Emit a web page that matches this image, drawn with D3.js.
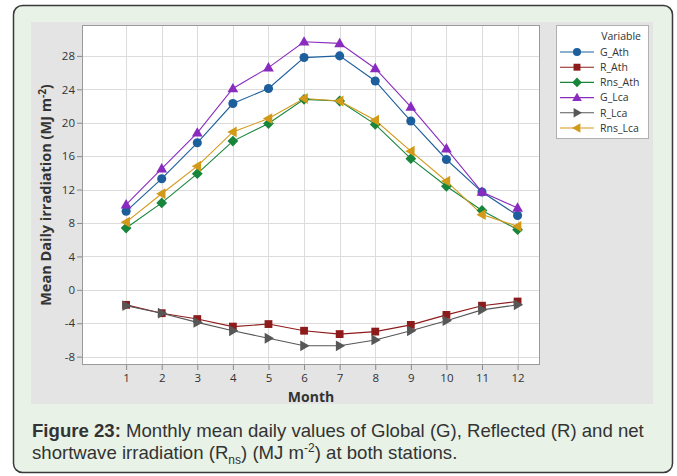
<!DOCTYPE html>
<html>
<head>
<meta charset="utf-8">
<script src="https://cdn.jsdelivr.net/npm/d3@7"></script>
<style>
  body { margin: 0; background: #fff; }
  svg { display: block; }
</style>
</head>
<body>
<svg id="chart" width="677" height="476"></svg>
<script>
const months = [1, 2, 3, 4, 5, 6, 7, 8, 9, 10, 11, 12];
const gAth = [9.4, 13.3, 17.6, 22.3, 24.1, 27.8, 28.0, 25.0, 20.2, 15.6, 11.7, 8.9];
const rAth = [-1.8, -2.8, -3.5, -4.4, -4.1, -4.9, -5.3, -5.0, -4.2, -3.0, -1.9, -1.4];
const rnsAth = [7.4, 10.4, 13.9, 17.8, 19.9, 22.8, 22.6, 19.8, 15.7, 12.4, 9.5, 7.2];
const gLca = [10.2, 14.5, 18.8, 24.1, 26.6, 29.7, 29.5, 26.5, 21.9, 16.9, 11.7, 9.8];
const rLca = [-1.9, -2.8, -3.9, -4.9, -5.8, -6.7, -6.7, -6.0, -4.9, -3.7, -2.4, -1.8];
const rnsLca = [8.1, 11.5, 14.8, 18.9, 20.5, 22.9, 22.6, 20.3, 16.6, 13.0, 9.0, 7.6];
const yTicks = [-8, -4, 0, 4, 8, 12, 16, 20, 24, 28];

const series = [
  {name: "G_Ath", values: gAth, color: "#1d5f9c", shape: "circle"},
  {name: "R_Ath", values: rAth, color: "#8e1b1b", shape: "square"},
  {name: "Rns_Ath", values: rnsAth, color: "#17853a", shape: "diamond"},
  {name: "G_Lca", values: gLca, color: "#8a2bbf", shape: "up"},
  {name: "R_Lca", values: rLca, color: "#575757", shape: "right"},
  {name: "Rns_Lca", values: rnsLca, color: "#d39a1a", shape: "left"}
];

const svg = d3.select("#chart");

// card
svg.append("rect")
  .attr("x", 13.5).attr("y", 5.5).attr("width", 659).attr("height", 467)
  .attr("rx", 9).attr("fill", "#e8f2e6").attr("stroke", "#3a3a3a").attr("stroke-width", 1.5);

// grey chart panel
svg.append("rect")
  .attr("x", 31).attr("y", 22).attr("width", 622).attr("height", 382)
  .attr("fill", "#e4e4e4");

const plot = {left: 82, top: 25, right: 540, bottom: 365};

const x = d3.scaleLinear().domain([-0.24, 12.63]).range([plot.left, plot.right]);
const y = d3.scaleLinear().domain([-9, 31.7]).range([plot.bottom, plot.top]);

svg.append("rect")
  .attr("x", plot.left).attr("y", plot.top)
  .attr("width", plot.right - plot.left).attr("height", plot.bottom - plot.top)
  .attr("fill", "#fff");

// grid
const grid = svg.append("g").attr("stroke", "#dcdcdc").attr("stroke-width", 1);
grid.selectAll(".gx").data(months).join("line")
  .attr("x1", d => Math.round(x(d)) + 0.5).attr("x2", d => Math.round(x(d)) + 0.5)
  .attr("y1", plot.top).attr("y2", plot.bottom);
grid.selectAll(".gy").data(yTicks).join("line")
  .attr("y1", d => Math.round(y(d)) + 0.5).attr("y2", d => Math.round(y(d)) + 0.5)
  .attr("x1", plot.left).attr("x2", plot.right);

svg.append("rect")
  .attr("x", plot.left + 0.5).attr("y", plot.top + 0.5)
  .attr("width", plot.right - plot.left - 1).attr("height", plot.bottom - plot.top - 1)
  .attr("fill", "none").attr("stroke", "#9a9a9a");

// axes
const xAxis = svg.append("g")
  .attr("transform", `translate(0,${plot.bottom})`)
  .call(d3.axisBottom(x).tickValues(months).tickSize(5).tickPadding(4));
const yAxis = svg.append("g")
  .attr("transform", `translate(${plot.left},0)`)
  .call(d3.axisLeft(y).tickValues(yTicks).tickSize(5).tickPadding(2).tickFormat(d => String(d)));
[xAxis, yAxis].forEach(a => {
  a.select(".domain").remove();
  a.selectAll(".tick line").attr("stroke", "#8a8a8a");
  a.selectAll("text").attr("fill", "#333").attr("font-family", "Open Sans, sans-serif").attr("font-size", 11.5);
});

svg.append("text")
  .attr("x", 311).attr("y", 402).attr("text-anchor", "middle")
  .attr("font-family", "Open Sans, sans-serif").attr("font-weight", "bold").attr("font-size", 14)
  .attr("fill", "#333").text("Month");

const yl = svg.append("text")
  .attr("transform", `translate(51,195) rotate(-90)`)
  .attr("text-anchor", "middle")
  .attr("font-family", "Open Sans, sans-serif").attr("font-weight", "bold").attr("font-size", 14.5)
  .attr("fill", "#333");
yl.append("tspan").text("Mean Daily irradiation (MJ m");
yl.append("tspan").attr("dy", -5).attr("font-size", 10).text("-2");
yl.append("tspan").attr("dy", 5).text(")");

// markers
function symbolPath(shape, size) {
  const s = size;
  if (shape === "circle") return d3.symbol(d3.symbolCircle, s * s * 0.8)();
  if (shape === "square") return d3.symbol(d3.symbolSquare, s * s * 0.75)();
  if (shape === "diamond") return `M0,${-s * 0.6}L${s * 0.6},0L0,${s * 0.6}L${-s * 0.6},0Z`;
  if (shape === "up") return `M0,${-s * 0.62}L${s * 0.6},${s * 0.42}L${-s * 0.6},${s * 0.42}Z`;
  if (shape === "right") return `M${s * 0.62},0L${-s * 0.42},${s * 0.6}L${-s * 0.42},${-s * 0.6}Z`;
  if (shape === "left") return `M${-s * 0.62},0L${s * 0.42},${s * 0.6}L${s * 0.42},${-s * 0.6}Z`;
}

const line = d3.line().x((d, i) => x(months[i])).y(d => y(d));

series.forEach(s => {
  svg.append("path").datum(s.values)
    .attr("d", line).attr("fill", "none").attr("stroke", s.color).attr("stroke-width", 1.1);
});
series.forEach(s => {
  svg.append("g").selectAll("path").data(s.values).join("path")
    .attr("transform", (d, i) => `translate(${x(months[i])},${y(d)})`)
    .attr("d", symbolPath(s.shape, 9)).attr("fill", s.color);
});

// legend
const lg = svg.append("g");
lg.append("rect").attr("x", 556.5).attr("y", 25.5).attr("width", 92).attr("height", 113)
  .attr("fill", "#fff").attr("stroke", "#b0b0b0");
lg.append("text").attr("x", 641).attr("y", 40).attr("text-anchor", "end")
  .attr("font-family", "Open Sans, sans-serif").attr("font-size", 10.5).attr("fill", "#333").text("Variable");
series.forEach((s, i) => {
  const yy = 52 + i * 15.2;
  lg.append("line").attr("x1", 560).attr("x2", 594).attr("y1", yy).attr("y2", yy)
    .attr("stroke", s.color).attr("stroke-width", 1.1);
  lg.append("path").attr("transform", `translate(577,${yy})`).attr("d", symbolPath(s.shape, 8)).attr("fill", s.color);
  lg.append("text").attr("x", 600).attr("y", yy + 3.8)
    .attr("font-family", "Open Sans, sans-serif").attr("font-size", 10.5).attr("fill", "#333").text(s.name);
});

// caption
const cap = svg.append("g").attr("font-family", "Liberation Sans, Arial, sans-serif").attr("font-size", 18.6).attr("fill", "#333");
const c1 = cap.append("text").attr("x", 32).attr("y", 437);
c1.append("tspan").attr("font-weight", "bold").text("Figure 23:");
c1.append("tspan").text(" Monthly mean daily values of Global (G), Reflected (R) and net");
const c2 = cap.append("text").attr("x", 32).attr("y", 459);
c2.append("tspan").text("shortwave irradiation (R");
c2.append("tspan").attr("dy", 5).attr("font-size", 12).text("ns");
c2.append("tspan").attr("dy", -5).text(") (MJ m");
c2.append("tspan").attr("dy", -7).attr("font-size", 12).text("-2");
c2.append("tspan").attr("dy", 7).text(") at both stations.");
</script>
</body>
</html>
